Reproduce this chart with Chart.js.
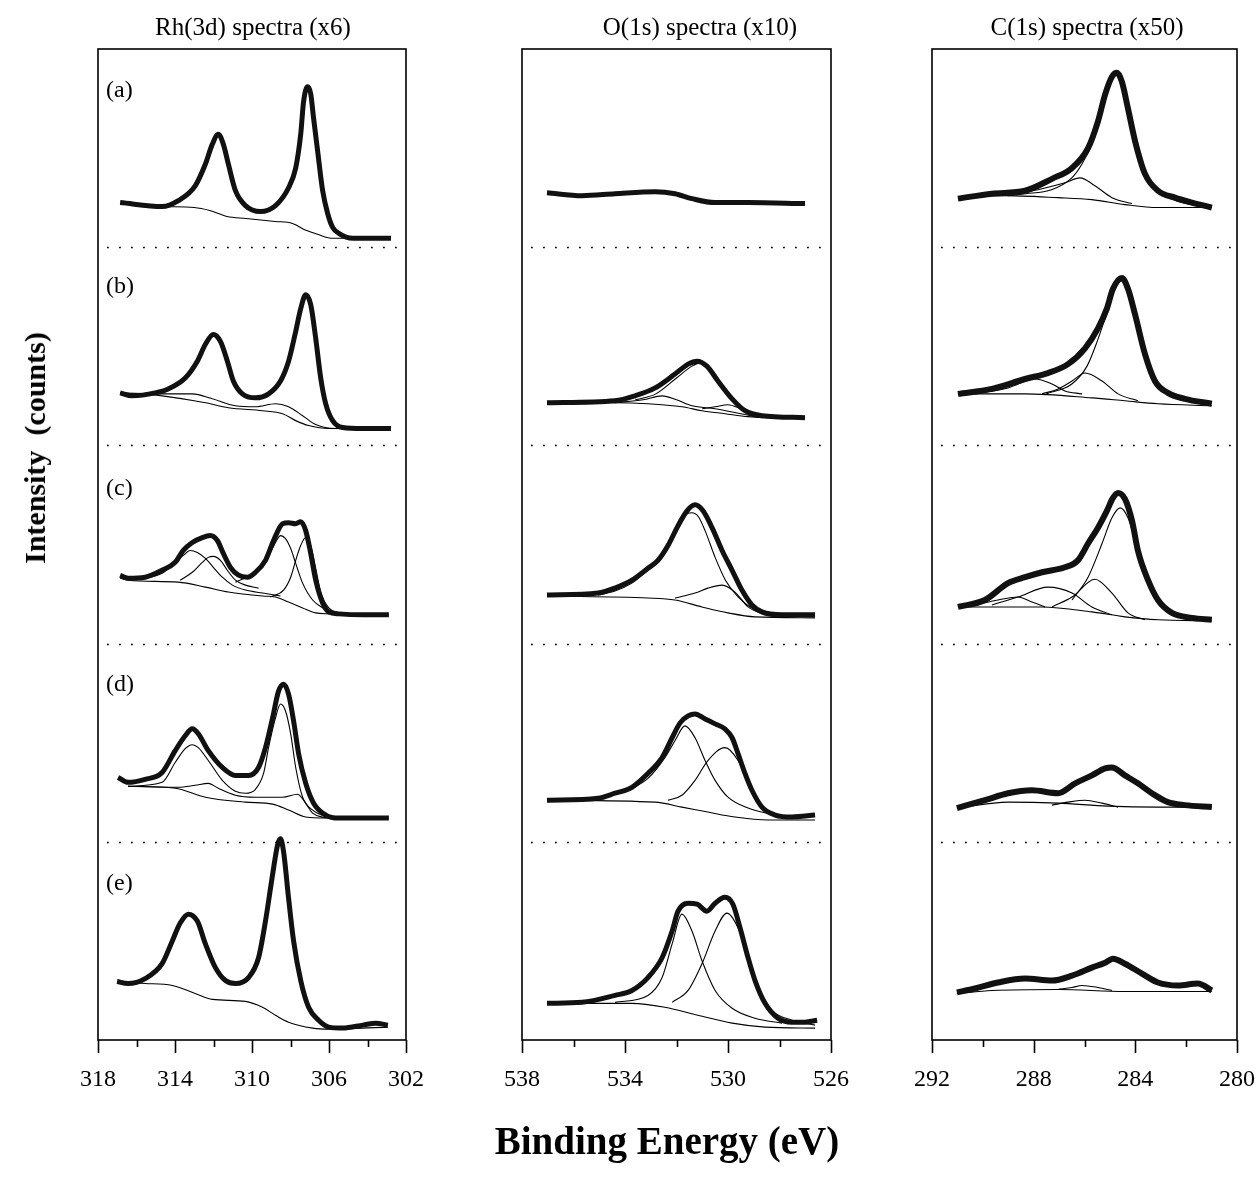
<!DOCTYPE html>
<html>
<head>
<meta charset="utf-8">
<script src="https://cdn.jsdelivr.net/npm/chart.js@4.4.1/dist/chart.umd.min.js"></script>
<style>
  body { margin: 0; background: #fff; }
  #wrap { position: relative; width: 1258px; height: 1188px; overflow: hidden; }
  canvas { position: absolute; left: 0; top: 0; }
  .t { position: absolute; transform: translate(-50%, -50%); font-family: "Liberation Serif", "Times New Roman", serif; color: #000; white-space: nowrap; }
</style>
</head>
<body>
<div id="wrap">
  <canvas id="rh" width="1258" height="1188"></canvas>
  <canvas id="ox" width="1258" height="1188"></canvas>
  <canvas id="cs" width="1258" height="1188"></canvas>
</div>
<script>
// panel titles, strip labels, axis ranges (eV)
const panelTitles = ['Rh(3d) spectra (x6)', 'O(1s) spectra (x10)', 'C(1s) spectra (x50)'];
const stripLabels = ['(a)', '(b)', '(c)', '(d)', '(e)'];
const rhRange = [302, 318];
const oRange = [526, 538];
const cRange = [280, 292];
const stripOffsets = [800, 600, 400, 200, 0]; // (a) on top ... (e) at bottom
const stripBreaks = [200, 400, 600, 800];

// ---- Rh(3d) ----
const rhA_E = [316.85, 314.67, 313.83, 312.95, 312.42, 312.06, 311.75, 311.49, 311.23, 310.86, 310.34, 309.56, 308.78, 308.10, 307.73, 307.47, 307.32, 307.11, 306.95, 306.80, 306.59, 306.33, 306.07, 305.81, 305.49, 304.76, 302.78];
const rhA_I = [45, 41, 47, 62, 84, 104, 114, 104, 84, 57, 42, 36, 42, 60, 80, 114, 147, 162, 155, 130, 97, 57, 34, 20, 14, 9, 9];
const rhA_bgE = [316.85, 314.67, 313.0, 312.2, 311.3, 310.3, 308.8, 307.9, 307.2, 306.6, 305.8, 302.78];
const rhA_bgI = [44, 41, 40, 37, 31, 29, 26, 24, 17, 13, 9, 9];

const rhB_E = [316.85, 316.23, 315.03, 314.35, 313.47, 312.84, 312.42, 312.01, 311.64, 311.28, 310.97, 310.50, 309.82, 309.14, 308.52, 308.10, 307.73, 307.47, 307.21, 306.95, 306.69, 306.43, 306.17, 305.81, 305.29, 304.24, 302.78];
const rhB_I = [53, 50, 53, 57, 68, 85, 102, 112, 105, 85, 65, 52, 48, 52, 65, 85, 115, 138, 152, 142, 108, 68, 42, 25, 18, 17, 17];
const rhB_c1E = [316.85, 314.67, 313.1, 312.06, 310.86, 309.82, 308.78, 308.10, 307.37, 306.69, 305.65, 302.78];
const rhB_c1I = [53, 52, 52, 47, 40, 39, 42, 39, 30, 21, 17, 17];
const rhB_bgE = [316.85, 314.67, 312.42, 311.23, 309.45, 308.41, 307.73, 307.06, 306.01, 302.78];
const rhB_bgI = [53, 50, 43, 38, 35, 32, 25, 20, 17, 17];

const rhC_E = [316.85, 316.44, 315.55, 314.67, 313.99, 313.57, 313.10, 312.58, 312.16, 311.80, 311.49, 311.12, 310.70, 310.24, 309.82, 309.30, 308.88, 308.41, 308.10, 307.73, 307.47, 307.21, 306.95, 306.69, 306.33, 306.01, 305.49, 304.24, 302.89];
const rhC_I = [69, 66, 67, 74, 82, 94, 102, 107, 109, 104, 91, 77, 69, 67, 72, 84, 104, 121, 122, 121, 123, 114, 91, 64, 41, 32, 30, 29, 29];
const rhC_c1E = [315.55, 314.67, 313.99, 313.57, 313.21, 312.84, 312.42, 312.01, 311.54, 311.02, 310.34, 309.45, 308.52];
const rhC_c1I = [66, 71, 82, 89, 94, 92, 86, 77, 67, 59, 54, 51, 48];
const rhC_c2E = [313.73, 313.10, 312.58, 312.27, 312.01, 311.64, 311.28, 310.86, 310.34, 309.66];
const rhC_c2I = [64, 72, 82, 87, 88, 84, 74, 64, 59, 56];
const rhC_c3E = [310.86, 310.08, 309.45, 309.04, 308.72, 308.52, 308.26, 307.99, 307.73, 307.37, 306.85, 306.17];
const rhC_c3I = [62, 69, 79, 92, 104, 109, 106, 96, 81, 61, 44, 34];
const rhC_c4E = [309.04, 308.36, 307.99, 307.73, 307.47, 307.21, 306.95, 306.69, 306.43, 306.01, 305.49];
const rhC_c4I = [47, 54, 67, 84, 99, 107, 99, 76, 52, 36, 31];
const rhC_bgE = [316.85, 316.44, 313.83, 312.42, 311.23, 309.45, 308.78, 308.10, 307.37, 306.69, 306.01, 302.89];
const rhC_bgI = [66, 64, 62, 57, 52, 48, 47, 42, 36, 31, 30, 29];

const rhD_E = [316.96, 316.44, 315.55, 314.67, 313.99, 313.47, 313.10, 312.79, 312.27, 311.54, 310.86, 310.18, 309.66, 309.30, 308.93, 308.62, 308.36, 308.10, 307.84, 307.58, 307.21, 306.80, 306.17, 305.49, 304.24, 302.89];
const rhD_I = [65, 60, 63, 70, 92, 107, 114, 109, 92, 75, 67, 67, 75, 95, 125, 152, 159, 149, 122, 89, 59, 39, 27, 24, 24, 24];
const rhD_c1E = [316.44, 314.67, 313.99, 313.47, 313.10, 312.79, 312.27, 311.54, 310.86, 310.34, 309.82, 309.40, 309.14, 308.78, 308.52, 308.26, 307.99, 307.73, 307.37, 306.85, 306.17];
const rhD_c1I = [56, 60, 80, 94, 98, 95, 82, 62, 51, 49, 53, 69, 95, 125, 139, 132, 109, 75, 45, 32, 25];
const rhD_c2E = [316.44, 313.83, 312.95, 312.27, 311.75, 310.86, 309.82, 308.41, 307.63, 307.32, 306.85, 306.17];
const rhD_c2I = [56, 55, 57, 59, 54, 47, 45, 45, 48, 42, 29, 24];
const rhD_bgE = [316.44, 313.99, 312.42, 310.34, 308.93, 308.10, 307.21, 306.17, 302.89];
const rhD_bgI = [56, 54, 45, 40, 38, 32, 25, 24, 24];

const rhE_E = [317.01, 316.44, 315.55, 314.67, 314.14, 313.73, 313.31, 312.84, 312.42, 311.90, 311.38, 310.86, 310.18, 309.66, 309.30, 308.93, 308.67, 308.52, 308.36, 308.10, 307.84, 307.47, 307.06, 306.54, 306.01, 305.29, 304.24, 303.57, 302.94];
const rhE_I = [59, 57, 62, 77, 100, 118, 127, 120, 97, 73, 60, 57, 63, 83, 120, 167, 197, 203, 190, 143, 100, 60, 33, 20, 13, 12, 15, 17, 15];
const rhE_bgE = [317.01, 315.55, 314.14, 312.95, 312.06, 310.34, 309.45, 308.78, 308.10, 306.85, 306.01, 302.94];
const rhE_bgI = [58, 57, 55, 47, 41, 39, 33, 25, 18, 12, 11, 13];

// ---- O(1s) ----
const oA_E = [537.03, 535.67, 534.39, 532.83, 532.06, 531.40, 530.50, 529.22, 527.01];
const oA_I = [55, 52, 54, 56, 54, 49, 45, 45, 44];

const oB_E = [537.03, 534.39, 533.61, 532.83, 532.06, 531.55, 531.20, 530.82, 530.39, 529.84, 529.34, 528.68, 527.01];
const oB_I = [43, 45, 50, 58, 72, 82, 85, 80, 65, 47, 35, 30, 28];
const oB_mainE = [533.6, 532.8, 532.0, 531.4, 531.1, 530.7, 530.3, 529.8, 529.3, 528.7];
const oB_mainI = [46, 52, 68, 80, 83, 77, 62, 45, 33, 28];
const oB_c1E = [534.39, 533.3, 532.56, 532.0, 531.4, 530.5, 529.5, 528.7];
const oB_c1I = [43, 46, 50, 46, 40, 37, 32, 28];
const oB_c2E = [531.0, 530.5, 530.0, 529.5, 528.9, 528.3];
const oB_c2I = [37, 39, 41, 37, 31, 28];
const oB_bgE = [537.03, 534.39, 533.11, 531.79, 531.01, 530.12, 529.22, 528.45, 527.01];
const oB_bgI = [43, 43, 42, 39, 35, 32, 29, 28, 28];

const oC_E = [537.03, 535.05, 534.39, 533.73, 533.11, 532.72, 532.33, 531.94, 531.59, 531.28, 530.97, 530.62, 530.23, 529.84, 529.46, 529.07, 528.68, 527.90, 526.62];
const oC_I = [49, 51, 56, 64, 76, 84, 99, 119, 134, 140, 134, 117, 94, 74, 54, 39, 32, 29, 29];
const oC_mainE = [535.05, 534.39, 533.73, 533.11, 532.72, 532.33, 531.94, 531.65, 531.40, 531.15, 530.89, 530.50, 530.10, 529.60, 528.95, 528.17];
const oC_mainI = [49, 53, 61, 74, 83, 98, 117, 130, 132, 128, 114, 87, 64, 47, 34, 27];
const oC_c2E = [532.06, 531.28, 530.78, 530.23, 529.73, 529.22, 528.56];
const oC_c2I = [46, 51, 56, 59, 52, 37, 29];
const oC_bgE = [537.03, 533.11, 532.06, 531.01, 530.0, 528.95, 526.62];
const oC_bgI = [48, 46, 44, 37, 31, 27, 26];

const oD_E = [537.03, 535.05, 534.39, 533.73, 533.11, 532.56, 532.17, 531.86, 531.55, 531.28, 530.89, 530.50, 530.12, 529.84, 529.61, 529.34, 529.07, 528.68, 528.17, 527.51, 526.62];
const oD_I = [42, 44, 49, 55, 69, 85, 105, 120, 127, 129, 124, 119, 114, 105, 89, 69, 52, 35, 27, 25, 27];
const oD_c1E = [537.03, 535.05, 534.39, 533.73, 533.11, 532.45, 532.06, 531.67, 531.28, 530.89, 530.50, 530.0, 529.22, 528.17];
const oD_c1I = [42, 44, 48, 54, 64, 85, 102, 117, 105, 82, 62, 45, 34, 27];
const oD_c2E = [532.33, 531.79, 531.28, 530.78, 530.12, 529.61, 529.22, 528.83, 528.29, 527.67];
const oD_c2I = [42, 47, 62, 82, 95, 82, 59, 39, 29, 25];
const oD_bgE = [537.03, 532.83, 531.79, 530.78, 529.73, 528.45, 526.62];
const oD_bgI = [42, 40, 35, 30, 25, 22, 22];

const oE_E = [537.03, 535.67, 534.39, 533.73, 533.11, 532.56, 532.17, 531.94, 531.55, 531.20, 530.82, 530.50, 530.12, 529.81, 529.53, 529.22, 528.95, 528.56, 528.06, 527.51, 527.01, 526.54];
const oE_I = [37, 38, 45, 50, 63, 83, 110, 130, 138, 137, 130, 138, 144, 137, 113, 83, 60, 37, 22, 18, 18, 20];
const oE_c1E = [534.39, 533.11, 532.56, 532.17, 531.79, 531.40, 531.01, 530.50, 529.84, 528.95, 527.90];
const oE_c1I = [38, 45, 63, 97, 127, 110, 80, 50, 32, 22, 17];
const oE_c2E = [532.17, 531.55, 531.01, 530.50, 530.04, 529.61, 529.22, 528.83, 528.29, 527.51, 526.62];
const oE_c2I = [38, 50, 77, 110, 128, 113, 83, 53, 30, 20, 15];
const oE_bgE = [537.03, 533.73, 532.45, 531.17, 529.84, 528.56, 526.62];
const oE_bgI = [37, 37, 33, 25, 17, 13, 12];

// ---- C(1s) ----
const cA_E = [290.98, 289.64, 288.34, 287.28, 286.49, 285.86, 285.47, 285.19, 284.92, 284.72, 284.53, 284.29, 284.01, 283.62, 283.11, 282.44, 281.77, 280.99];
const cA_I = [49, 54, 57, 69, 80, 100, 127, 154, 172, 176, 167, 140, 107, 74, 57, 50, 45, 40];
const cA_mainE = [289.25, 288.3, 287.3, 286.5, 286.1, 285.7, 285.4, 285.1, 284.85, 284.72, 284.5, 284.3, 284.0, 283.6, 283.1, 282.4, 281.8, 281.2];
const cA_mainI = [52, 54, 58, 70, 84, 105, 135, 160, 173, 175, 166, 140, 106, 74, 56, 47, 43, 41];
const cA_c1E = [289.01, 287.67, 286.77, 286.18, 285.59, 284.92, 284.13];
const cA_c1I = [52, 59, 65, 70, 62, 50, 44];
const cA_bgE = [290.98, 289.25, 287.04, 285.71, 284.41, 283.11, 280.99];
const cA_bgI = [50, 52, 50, 48, 43, 40, 40];

const cB_E = [290.98, 289.64, 288.34, 287.44, 286.65, 285.98, 285.47, 285.12, 284.88, 284.53, 284.29, 284.01, 283.62, 283.23, 282.72, 282.05, 280.99];
const cB_I = [52, 57, 67, 73, 82, 98, 118, 138, 158, 169, 158, 132, 92, 65, 53, 47, 42];
const cB_mainE = [287.5, 286.5, 285.9, 285.5, 285.1, 284.8, 284.53, 284.3, 284.0, 283.6, 283.2, 282.7, 282.0, 281.2];
const cB_mainI = [52, 62, 80, 105, 135, 158, 166, 155, 128, 90, 64, 52, 46, 42];
const cB_c1E = [290.31, 289.01, 287.95, 287.28, 286.77, 286.10];
const cB_c1I = [52, 58, 67, 62, 55, 52];
const cB_c2E = [287.67, 287.04, 286.49, 285.98, 285.31, 284.68, 283.90];
const cB_c2I = [52, 57, 65, 73, 65, 52, 45];
const cB_bgE = [290.98, 288.34, 285.71, 284.41, 283.11, 280.99];
const cB_bgI = [52, 52, 48, 45, 42, 40];

const cC_E = [290.98, 289.92, 289.01, 288.34, 287.67, 286.77, 286.26, 285.86, 285.47, 285.12, 284.88, 284.68, 284.41, 284.13, 283.90, 283.50, 283.11, 282.56, 281.77, 280.99];
const cC_I = [37, 44, 61, 67, 72, 77, 84, 101, 117, 134, 147, 152, 146, 124, 94, 64, 44, 31, 26, 24];
const cC_c1E = [290.31, 289.40, 288.62, 288.07, 287.55];
const cC_c1I = [39, 44, 47, 42, 37];
const cC_c2E = [289.64, 288.62, 287.44, 286.49, 285.71, 284.92];
const cC_c2I = [39, 47, 57, 51, 37, 29];
const cC_c3E = [287.28, 286.49, 285.59, 284.92, 284.29, 283.62];
const cC_c3I = [37, 47, 65, 51, 31, 24];
const cC_c4E = [286.49, 285.86, 285.31, 284.92, 284.60, 284.29, 283.90, 283.50, 282.95, 282.32, 281.54];
const cC_c4I = [44, 67, 101, 127, 137, 127, 94, 64, 41, 27, 23];
const cC_bgE = [290.98, 287.67, 285.71, 284.41, 283.11, 280.99];
const cC_bgI = [37, 37, 32, 27, 24, 23];

const cD_E = [291.02, 289.92, 289.01, 288.07, 287.04, 286.37, 285.71, 285.19, 284.92, 284.41, 283.90, 283.35, 282.72, 282.05, 280.99];
const cD_I = [34, 42, 49, 52, 49, 59, 67, 74, 75, 67, 59, 49, 40, 37, 35];
const cD_c1E = [287.28, 286.65, 285.98, 285.31, 284.68];
const cD_c1I = [37, 40, 42, 39, 35];
const cD_bgE = [291.02, 289.01, 287.04, 285.08, 283.11, 280.99];
const cD_bgI = [34, 40, 39, 36, 35, 35];

const cE_E = [291.02, 290.31, 289.40, 288.34, 287.28, 286.49, 285.71, 285.19, 284.88, 284.41, 283.74, 283.11, 282.32, 281.54, 280.99];
const cE_I = [48, 52, 58, 62, 60, 65, 73, 78, 82, 77, 67, 58, 55, 57, 50];
const cE_c1E = [287.04, 286.49, 286.10, 285.47, 284.92];
const cE_c1I = [51, 53, 55, 53, 50];
const cE_bgE = [291.02, 289.64, 287.04, 284.41, 280.99];
const cE_bgI = [47, 50, 51, 49, 49];

// ---------- helpers ----------
function pts(E, I, off) {
  return E.map((e, i) => ({ x: e, y: I[i] + off }));
}
function measured(E, I, off, w) {
  return { data: pts(E, I, off), borderColor: '#111', borderWidth: w, pointRadius: 0,
           cubicInterpolationMode: 'monotone', order: 0, fill: false };
}
function fitLine(E, I, off) {
  return { data: pts(E, I, off), borderColor: '#000', borderWidth: 1.1, pointRadius: 0,
           cubicInterpolationMode: 'monotone', order: 1, fill: false };
}

const framePlugin = {
  id: 'frame',
  afterDatasetsDraw(chart) {
    const { ctx, chartArea: a, scales: { x, y } } = chart;
    ctx.save();
    ctx.strokeStyle = '#000';
    ctx.lineWidth = 1.6;
    ctx.strokeRect(a.left, a.top, a.right - a.left, a.bottom - a.top);
    // dotted strip separators
    ctx.setLineDash([1.8, 10.2]);
    stripBreaks.forEach(v => {
      const py = Math.round(y.getPixelForValue(v)) + 0.5;
      ctx.beginPath();
      ctx.moveTo(a.left + 9, py);
      ctx.lineTo(a.right - 3, py);
      ctx.stroke();
    });
    ctx.setLineDash([]);
    // tick marks below the axis: long every 4 eV, short in between
    x.ticks.forEach(t => {
      const px = Math.round(x.getPixelForValue(t.value)) + 0.5;
      const major = Math.abs((t.value - x.min) % 4) < 1e-6;
      ctx.beginPath();
      ctx.moveTo(px, a.bottom);
      ctx.lineTo(px, a.bottom + (major ? 13 : 7));
      ctx.stroke();
    });
    ctx.restore();
  }
};

function makePanel(id, range, left, right, datasets) {
  const W = 1258, H = 1188, top = 49, bottom = 1040, axisH = 60;
  return new Chart(document.getElementById(id), {
    type: 'line',
    data: { datasets },
    options: {
      responsive: false,
      animation: false,
      events: [],
      layout: { padding: { left: left, right: W - right, top: top, bottom: H - bottom - axisH } },
      plugins: { legend: { display: false }, tooltip: { enabled: false } },
      scales: {
        x: {
          type: 'linear', reverse: true, min: range[0], max: range[1],
          border: { display: false },
          grid: { display: false, drawTicks: false },
          ticks: {
            stepSize: 2, padding: 25, color: '#000', maxRotation: 0, autoSkip: false,
            font: { family: "'Liberation Serif', 'Times New Roman', serif", size: 24 },
            callback: v => ((v - range[0]) % 4 === 0 ? String(v) : '')
          },
          afterFit: s => { s.height = axisH; s.paddingLeft = 0; s.paddingRight = 0; }
        },
        y: { display: false, min: 0, max: 1000 }
      }
    },
    plugins: [framePlugin]
  });
}

const [oa, ob, oc, od, oe] = stripOffsets;

makePanel('rh', rhRange, 98, 406, [
  measured(rhA_E, rhA_I, oa, 5), fitLine(rhA_bgE, rhA_bgI, oa),
  measured(rhB_E, rhB_I, ob, 5), fitLine(rhB_c1E, rhB_c1I, ob), fitLine(rhB_bgE, rhB_bgI, ob),
  measured(rhC_E, rhC_I, oc, 5), fitLine(rhC_c1E, rhC_c1I, oc), fitLine(rhC_c2E, rhC_c2I, oc),
  fitLine(rhC_c3E, rhC_c3I, oc), fitLine(rhC_c4E, rhC_c4I, oc), fitLine(rhC_bgE, rhC_bgI, oc),
  measured(rhD_E, rhD_I, od, 5), fitLine(rhD_c1E, rhD_c1I, od), fitLine(rhD_c2E, rhD_c2I, od), fitLine(rhD_bgE, rhD_bgI, od),
  measured(rhE_E, rhE_I, oe, 5), fitLine(rhE_bgE, rhE_bgI, oe)
]);

makePanel('ox', oRange, 522, 831, [
  measured(oA_E, oA_I, oa, 5),
  measured(oB_E, oB_I, ob, 5), fitLine(oB_mainE, oB_mainI, ob), fitLine(oB_c1E, oB_c1I, ob),
  fitLine(oB_c2E, oB_c2I, ob), fitLine(oB_bgE, oB_bgI, ob),
  measured(oC_E, oC_I, oc, 5), fitLine(oC_mainE, oC_mainI, oc), fitLine(oC_c2E, oC_c2I, oc), fitLine(oC_bgE, oC_bgI, oc),
  measured(oD_E, oD_I, od, 5), fitLine(oD_c1E, oD_c1I, od), fitLine(oD_c2E, oD_c2I, od), fitLine(oD_bgE, oD_bgI, od),
  measured(oE_E, oE_I, oe, 5), fitLine(oE_c1E, oE_c1I, oe), fitLine(oE_c2E, oE_c2I, oe), fitLine(oE_bgE, oE_bgI, oe)
]);

makePanel('cs', cRange, 932, 1237, [
  measured(cA_E, cA_I, oa, 6), fitLine(cA_mainE, cA_mainI, oa), fitLine(cA_c1E, cA_c1I, oa), fitLine(cA_bgE, cA_bgI, oa),
  measured(cB_E, cB_I, ob, 6), fitLine(cB_mainE, cB_mainI, ob), fitLine(cB_c1E, cB_c1I, ob),
  fitLine(cB_c2E, cB_c2I, ob), fitLine(cB_bgE, cB_bgI, ob),
  measured(cC_E, cC_I, oc, 6), fitLine(cC_c1E, cC_c1I, oc), fitLine(cC_c2E, cC_c2I, oc),
  fitLine(cC_c3E, cC_c3I, oc), fitLine(cC_c4E, cC_c4I, oc), fitLine(cC_bgE, cC_bgI, oc),
  measured(cD_E, cD_I, od, 6), fitLine(cD_c1E, cD_c1I, od), fitLine(cD_bgE, cD_bgI, od),
  measured(cE_E, cE_I, oe, 6), fitLine(cE_c1E, cE_c1I, oe), fitLine(cE_bgE, cE_bgI, oe)
]);

// text: titles, strip labels, axis titles
const wrap = document.getElementById('wrap');
function addText(txt, x, y, css) {
  const d = document.createElement('div');
  d.className = 't';
  d.textContent = txt;
  d.style.left = x + 'px';
  d.style.top = y + 'px';
  Object.assign(d.style, css || {});
  wrap.appendChild(d);
  return d;
}
const titleX = [253, 700, 1087];
panelTitles.forEach((t, i) => addText(t, titleX[i], 27, { fontSize: '25px' }));
const labelY = [89, 285, 487, 683, 882];
stripLabels.forEach((t, i) => {
  const d = addText(t, 106, labelY[i], { fontSize: '24px' });
  d.style.transform = 'translate(0, -50%)';
});
addText('Binding Energy (eV)', 667, 1140, { fontSize: '39px', fontWeight: 'bold' });
addText('Intensity  (counts)', 35, 448, { fontSize: '30px', fontWeight: 'bold', transform: 'translate(-50%, -50%) rotate(-90deg)', whiteSpace: 'pre' });
</script>
</body>
</html>
